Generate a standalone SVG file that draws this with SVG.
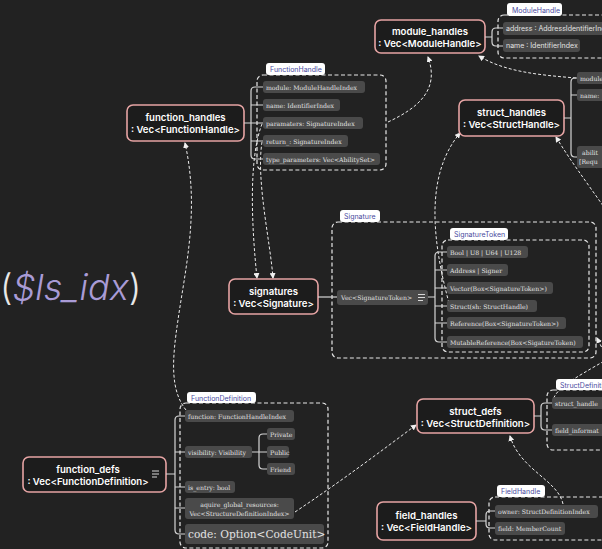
<svg xmlns="http://www.w3.org/2000/svg" width="602" height="549" viewBox="0 0 602 549">
<defs>
<marker id="ah" viewBox="0 0 6 6" refX="5" refY="3" markerWidth="6" markerHeight="6" markerUnits="userSpaceOnUse" orient="auto">
<path d="M0,0 L6,3 L0,6 Z" fill="#f0f0f0"/>
</marker>
<style>
.node rect{fill:#1c1c1c;stroke:#e6a4a4;stroke-width:1.6}
.nt{font-family:Inter,"Open Sans",sans-serif;font-weight:600;font-size:9.6px;fill:#ffffff;text-anchor:middle}
.row{fill:#4a4a4a}
.rt{font-family:"DejaVu Serif","Liberation Serif",serif;font-size:6.2px;fill:#e2e2e2}
.rs{font-family:Inter,"Liberation Sans",sans-serif;font-size:7px;fill:#e2e2e2}
.tab{fill:#ffffff}
.tt{font-family:Inter,"Liberation Sans",sans-serif;font-size:7px;fill:#4a4aa0}
.dash{fill:none;stroke:#e8e8e8;stroke-width:1.2;stroke-dasharray:4 2.5}
.br{fill:none;stroke:#d6d6d6;stroke-width:1.2}
.conn{fill:none;stroke:#ececec;stroke-width:1;stroke-dasharray:3 2;marker-end:url(#ah)}
.ic{stroke:#d8d8d8;stroke-width:1}
</style>
</defs>
<rect width="602" height="549" fill="#222222"/>

<text x="0" y="300" font-family="Inter,'Liberation Sans',sans-serif" font-weight="300" font-size="36" fill="#e8e8e8">(<tspan fill="#a99bd6" font-style="italic">$ls_idx</tspan>)</text>

<g id="connectors">
<path class="conn" d="M388,122 C418,108 440,90 428,57"/>
<path class="conn" d="M576,78 C540,75 505,72 479,56"/>
<path class="conn" d="M449,303 C432,240 425,175 460,133"/>
<path class="conn" d="M606,210 C585,180 570,160 556,137"/>
<path class="conn" d="M606,356 L597,338"/>
<path class="conn" style="marker-end:none" d="M553,403 C552,390 575,378 606,360"/>
<path class="conn" d="M186,410 C170,390 172,360 178,320 C185,270 200,210 185,143"/>
<path class="conn" d="M262,124 C248,160 252,230 257,278"/>
<path class="conn" d="M262,142 C256,180 270,240 273,278"/>
<path class="conn" d="M295,512 C340,482 380,452 416,425"/>
<path class="conn" d="M563,504 C558,480 520,470 510,436"/>
</g>

<g id="module_handles">
<g class="node"><rect x="375" y="20" width="110" height="33" rx="6"/></g>
<text class="nt" x="430" y="35">module_handles</text>
<text class="nt" x="430" y="47">: Vec&lt;ModuleHandle&gt;</text>
<path class="br" d="M485,37 H492 M503,28 H496 Q492,28 492,32 V42 Q492,46 496,46 H503"/>
<rect class="dash" x="498" y="15" width="140" height="43" rx="6"/>
<rect class="tab" x="507" y="3" width="55" height="13" rx="3"/>
<text class="tt" x="512" y="12.5">ModuleHandle</text>
<rect class="row" x="503" y="22" width="120" height="13" rx="3"/>
<text class="rs" x="506" y="31">address : AddressIdentifierIndex</text>
<rect class="row" x="503" y="39" width="77" height="13" rx="3"/>
<text class="rs" x="506" y="48">name : IdentifierIndex</text>
</g>

<g id="function_handles">
<g class="node"><rect x="127" y="105" width="117" height="36" rx="6"/></g>
<text class="nt" x="185.5" y="121">function_handles</text>
<text class="nt" x="185.5" y="133">: Vec&lt;FunctionHandle&gt;</text>
<path class="br" d="M244,123 H251 M263,87 H255 Q251,87 251,91 V155 Q251,159 255,159 H263 M251,105 H263 M251,123 H263 M251,141 H263"/>
<rect class="dash" x="257" y="75" width="129" height="95" rx="6"/>
<rect class="tab" x="266" y="63" width="59" height="12" rx="3"/>
<text class="tt" x="270" y="72">FunctionHandle</text>
<rect class="row" x="263" y="81" width="102" height="12" rx="3"/>
<text class="rt" x="266" y="89.5">module: ModuleHandleIndex</text>
<rect class="row" x="263" y="99" width="77" height="12" rx="3"/>
<text class="rt" x="266" y="107.5">name: IdentifierIndex</text>
<rect class="row" x="263" y="117" width="100" height="12" rx="3"/>
<text class="rt" x="266" y="125.5">paramaters: SignatureIndex</text>
<rect class="row" x="263" y="135" width="85" height="12" rx="3"/>
<text class="rt" x="266" y="143.5">return_: SignatureIndex</text>
<rect class="row" x="263" y="153" width="117" height="12" rx="3"/>
<text class="rt" x="266" y="161.5">type_parameters: Vec&lt;AbilitySet&gt;</text>
</g>

<g id="struct_handles">
<g class="node"><rect x="459" y="100" width="105" height="36" rx="6"/></g>
<text class="nt" x="511.5" y="116">struct_handles</text>
<text class="nt" x="511.5" y="128">: Vec&lt;StructHandle&gt;</text>
<path class="br" d="M564,118 H571 M577,78 H575 Q571,78 571,82 V153 Q571,157 575,157 H577 M571,95 H577"/>
<rect class="row" x="577" y="72" width="110" height="12" rx="3"/>
<text class="rt" x="580" y="80.5">module</text>
<rect class="row" x="577" y="89" width="90" height="12" rx="3"/>
<text class="rt" x="580" y="97.5">name:</text>
<rect class="row" x="577" y="146" width="90" height="22" rx="3"/>
<text class="rt" x="582" y="155">abilit</text>
<text class="rt" x="579" y="164">[Requ</text>
</g>

<g id="signatures">
<rect class="dash" x="332" y="222" width="264" height="136" rx="6"/>
<rect class="tab" x="340" y="210" width="40" height="12" rx="3"/>
<text class="tt" x="344" y="219">Signature</text>
<g class="node"><rect x="229" y="279" width="89" height="35" rx="6"/></g>
<text class="nt" x="273.5" y="295">signatures</text>
<text class="nt" x="273.5" y="307">: Vec&lt;Signature&gt;</text>
<path class="br" d="M318,297 H337"/>
<rect class="row" x="337" y="290" width="91" height="15" rx="3"/>
<text class="rt" x="341" y="300">Vec&lt;SignatureToken&gt;</text>
<path class="ic" d="M418,294.5 H425 M418,297.5 H425 M418,300.5 H423"/>
<path class="br" d="M428,297 H435 M447,252 H439 Q435,252 435,256 V338 Q435,342 439,342 H447 M435,270 H447 M435,288 H447 M435,306 H447 M435,323 H447"/>
<rect class="dash" x="442" y="240" width="147" height="112" rx="6"/>
<rect class="tab" x="450" y="228" width="58" height="12" rx="3"/>
<text class="tt" x="454" y="237">SignatureToken</text>
<rect class="row" x="447" y="246" width="81" height="12" rx="3"/>
<text class="rt" x="450" y="254.5">Bool | U8 | U64 | U128</text>
<rect class="row" x="447" y="264" width="61" height="12" rx="3"/>
<text class="rt" x="450" y="272.5">Address | Signer</text>
<rect class="row" x="447" y="282" width="106" height="12" rx="3"/>
<text class="rt" x="450" y="290.5">Vector(Box&lt;SignatureToken&gt;)</text>
<rect class="row" x="447" y="300" width="90" height="12" rx="3"/>
<text class="rt" x="450" y="308.5">Struct(sh: StructHandle)</text>
<rect class="row" x="447" y="317" width="119" height="12" rx="3"/>
<text class="rt" x="450" y="325.5">Reference(Box&lt;SignatureToken&gt;)</text>
<rect class="row" x="447" y="336" width="136" height="12" rx="3"/>
<text class="rt" x="450" y="344.5">MutableReference(Box&lt;SigatureToken)</text>
</g>

<g id="function_defs">
<g class="node"><rect x="23" y="457" width="143" height="35" rx="6"/></g>
<text class="nt" x="88" y="473">function_defs</text>
<text class="nt" x="88" y="485">: Vec&lt;FunctionDefinition&gt;</text>
<path class="ic" d="M152,471 H159 M152,474 H159 M152,477 H157"/>
<path class="br" d="M166,474 H175 M185,416 H179 Q175,416 175,420 V530 Q175,534 179,534 H185 M175,452 H185 M175,487 H185 M175,508 H185"/>
<rect class="dash" x="180" y="403" width="148" height="145" rx="6"/>
<rect class="tab" x="187" y="392" width="69" height="11" rx="3"/>
<text class="tt" x="191" y="400.5">FunctionDefinition</text>
<rect class="row" x="185" y="410" width="109" height="12" rx="3"/>
<text class="rt" x="188" y="418.5">function: FunctionHandleIndex</text>
<rect class="row" x="185" y="446" width="67" height="12" rx="3"/>
<text class="rt" x="188" y="454.5">visibility: Visibility</text>
<path class="br" d="M252,452 H259 M267,434 H263 Q259,434 259,438 V465 Q259,469 263,469 H267 M259,452 H267"/>
<rect class="row" x="267" y="428" width="28" height="12" rx="3"/>
<text class="rt" x="270" y="436.5">Private</text>
<rect class="row" x="267" y="446" width="22" height="12" rx="3"/>
<text class="rt" x="270" y="454.5">Public</text>
<rect class="row" x="267" y="463" width="28" height="12" rx="3"/>
<text class="rt" x="270" y="471.5">Friend</text>
<rect class="row" x="185" y="481" width="50" height="12" rx="3"/>
<text class="rt" x="188" y="489.5">is_entry: bool</text>
<rect class="row" x="185" y="498" width="109" height="21" rx="3"/>
<text class="rt" x="239.5" y="506.5" text-anchor="middle">aquire_global_resources:</text>
<text class="rt" x="239.5" y="515.5" text-anchor="middle">Vec&lt;StructureDefinitionIndex&gt;</text>
<rect class="row" x="185" y="524" width="139" height="20" rx="3"/>
<text class="rt" x="188" y="538" style="font-size:10.6px">code: Option&lt;CodeUnit&gt;</text>
</g>

<g id="struct_defs">
<g class="node"><rect x="417" y="399" width="117" height="34" rx="6"/></g>
<text class="nt" x="475.5" y="415">struct_defs</text>
<text class="nt" x="475.5" y="427">: Vec&lt;StructDefinition&gt;</text>
<path class="br" d="M534,416 H541 M552,403 H545 Q541,403 541,407 V426 Q541,430 545,430 H552"/>
<rect class="dash" x="547" y="390" width="90" height="60" rx="6"/>
<rect class="tab" x="556" y="379" width="70" height="11" rx="3"/>
<text class="tt" x="560" y="387.5">StructDefiniti</text>
<rect class="row" x="552" y="397" width="120" height="12" rx="3"/>
<text class="rt" x="555" y="405.5">struct_handle</text>
<rect class="row" x="552" y="424" width="140" height="12" rx="3"/>
<text class="rt" x="555" y="432.5">field_informat</text>
</g>

<g id="field_handles">
<g class="node"><rect x="377" y="502" width="99" height="38" rx="6"/></g>
<text class="nt" x="426.5" y="519">field_handles</text>
<text class="nt" x="426.5" y="531">: Vec&lt;FieldHandle&gt;</text>
<path class="br" d="M476,521 H486 M495,511 H490 Q486,511 486,515 V524 Q486,528 490,528 H495"/>
<rect class="dash" x="489" y="497" width="125" height="43" rx="6"/>
<rect class="tab" x="497" y="485" width="48" height="12" rx="3"/>
<text class="tt" x="501" y="494">FieldHandle</text>
<rect class="row" x="495" y="505" width="103" height="13" rx="3"/>
<text class="rt" x="498" y="514">owner: StructDefinitionIndex</text>
<rect class="row" x="495" y="522" width="70" height="13" rx="3"/>
<text class="rt" x="498" y="531">field: MemberCount</text>
</g>
</svg>
